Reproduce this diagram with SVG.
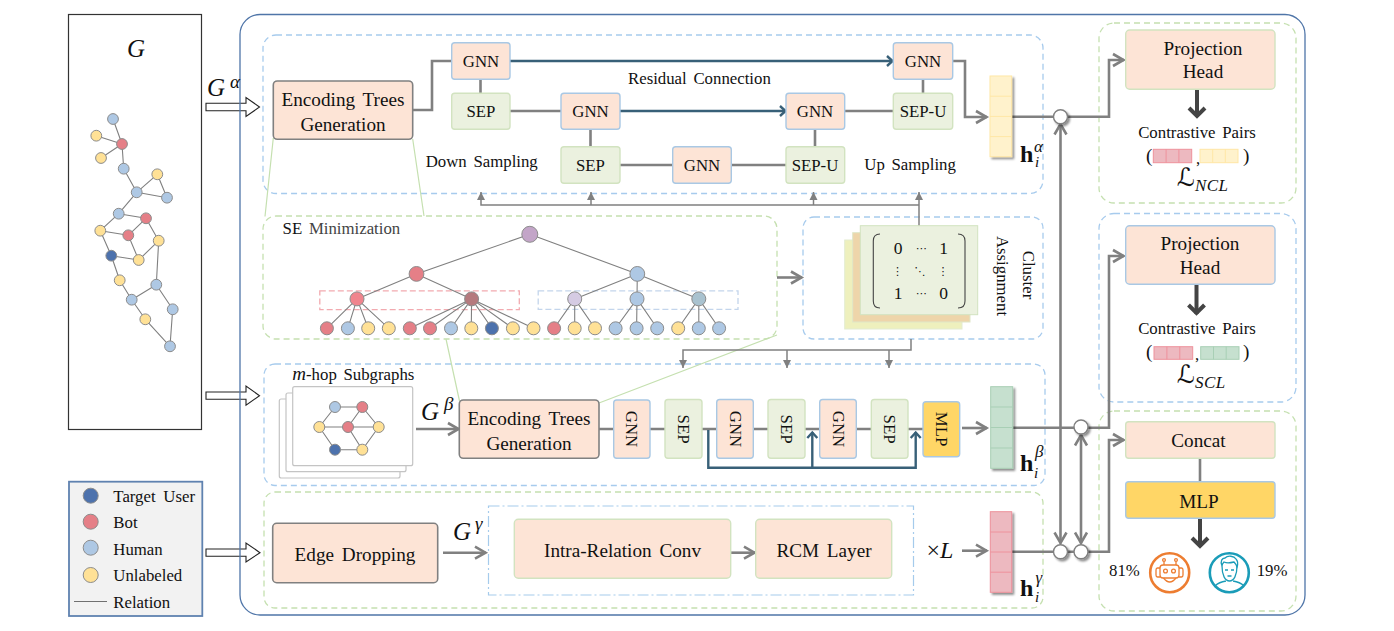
<svg xmlns="http://www.w3.org/2000/svg" width="1394" height="631" viewBox="0 0 1394 631">
<style>
text{font-family:"Liberation Serif","Times New Roman",serif;fill:#111}
.c{text-anchor:middle}
.lg{font-size:19.2px;word-spacing:3px}
.md{font-size:16.8px}
.sm{font-size:16.8px;word-spacing:2.5px}
.g{font-style:italic;font-size:25px}
.sup{font-style:italic;font-size:19px}
.hb{font-weight:bold;font-size:24px}
.si{font-style:italic;font-size:15px}
.hollow{fill:#fff;stroke:#222;stroke-width:1.1}
.pb{fill:none;stroke:#a7cbed;stroke-width:1.3;stroke-dasharray:6 4}
.pg{fill:none;stroke:#c5e0b0;stroke-width:1.3;stroke-dasharray:6 4}
.enc{fill:#fde4d6;stroke:#808080;stroke-width:1.6}
.nb{fill:#fde4d6;stroke:#a9c8e4;stroke-width:1.4}
.ng{fill:#ebf1df;stroke:#d2e3c0;stroke-width:1.4}
.nog{fill:#fde4d6;stroke:#d2e3c0;stroke-width:1.4}
.ml{fill:#ffd666;stroke:#a9c8e4;stroke-width:1.4}
.th{fill:none;stroke:#808080;stroke-width:2.6}
.rs{fill:none;stroke:#386078;stroke-width:2.4}
.tn{fill:none;stroke:#808080;stroke-width:1.5}
.dk{fill:none;stroke:#444;stroke-width:4}
.tl{fill:none;stroke:#c5e0b0;stroke-width:1.2}
.ge{stroke:#808080;stroke-width:1.1;fill:none}
.b{fill:#aec8e4;stroke:#8c8c8c;stroke-width:1}
.r{fill:#e57f87;stroke:#8c8c8c;stroke-width:1}
.y{fill:#ffe196;stroke:#8c8c8c;stroke-width:1}
.d{fill:#4d72ad;stroke:#8c8c8c;stroke-width:1}
.card{fill:#fff;stroke:#c4c4c4;stroke-width:1.2}
.vy{fill:#fff2cc;stroke:#ffe7a6;stroke-width:1}
.vg{fill:#c6e0cf;stroke:#a8cfb5;stroke-width:1}
.vp{fill:#edb9c0;stroke:#ee929c;stroke-width:1}
.j{fill:#fff;stroke:#808080;stroke-width:1.4}
.or{fill:none;stroke:#ed7d31;stroke-width:1.3}
.te{fill:none;stroke:#1a9cb8;stroke-width:1.3}
.dots{font-size:11px;font-family:"DejaVu Sans",sans-serif}
.script{font-size:25px;font-family:"DejaVu Serif","DejaVu Sans",serif}
.scsub{font-style:italic;font-size:17px;font-family:"Liberation Serif",serif;letter-spacing:.4px}
</style>
<defs>
<filter id="sh" x="-30%" y="-30%" width="170%" height="170%"><feDropShadow dx="2" dy="2" stdDeviation="1.3" flood-color="#000" flood-opacity="0.45"/></filter>
<marker id="ag" markerUnits="userSpaceOnUse" markerWidth="18" markerHeight="18" refX="14" refY="9" orient="auto-start-reverse"><path d="M3 3 L13.5 9 L3 15" fill="none" stroke="#808080" stroke-width="2.6"/></marker>
<marker id="ab" markerUnits="userSpaceOnUse" markerWidth="14" markerHeight="14" refX="11" refY="7" orient="auto"><path d="M5 2 L10.5 7 L5 12" fill="none" stroke="#386078" stroke-width="2.4"/></marker>
<marker id="at" markerUnits="userSpaceOnUse" markerWidth="10" markerHeight="10" refX="8" refY="5" orient="auto"><path d="M0 1 L8 5 L0 9Z" fill="#808080"/></marker>
<marker id="ad" markerUnits="userSpaceOnUse" markerWidth="20" markerHeight="20" refX="16" refY="10" orient="auto"><path d="M7 2 L15 10 L7 18" fill="none" stroke="#444" stroke-width="4"/></marker>
</defs>

<g id="input-arrows">
<path class="hollow" d="M206 103.3H246V97.5L259.5 107L246 116.5V110.7H206Z"/>
<path class="hollow" d="M206 392H246V386L259.5 395.7L246 405.2V399.3H206Z"/>
<path class="hollow" d="M206 549H246V543L260 552.7L246 562V556.3H206Z"/>
</g>
<rect id="frame" x="240" y="14.5" width="1065" height="600.5" rx="20" fill="none" stroke="#4f75a8" stroke-width="1.3"/>

<g id="panels">
<rect class="pb" x="263" y="35" width="780" height="158.5" rx="13"/>
<rect class="pg" x="263" y="216" width="514" height="123" rx="13"/>
<rect class="pb" x="803" y="217" width="240" height="122" rx="11"/>
<rect class="pb" x="264" y="364" width="781" height="121.5" rx="11"/>
<rect class="pg" x="264" y="492" width="779" height="116" rx="11"/>
<rect class="pg" x="1099" y="23" width="197" height="180" rx="15"/>
<rect class="pb" x="1099" y="213.5" width="197" height="188.5" rx="15"/>
<rect class="pg" x="1099" y="411" width="197" height="200" rx="15"/>
<rect x="488.5" y="506" width="425" height="89" fill="none" stroke="#a5cbec" stroke-width="1.2" stroke-dasharray="11 3 2 3"/>
<rect x="319.8" y="290.8" width="199.5" height="18.9" fill="none" stroke="#f2aab0" stroke-width="1.3" stroke-dasharray="6 3"/>
<rect x="538.2" y="290.8" width="199.8" height="18.6" fill="none" stroke="#c3d5ec" stroke-width="1.3" stroke-dasharray="6 3"/>
</g>

<g id="connectors">
<path class="tl" d="M273.3 138L265 216.5M412.7 139L424 216M446 339L459.5 401M777 335L599 403"/>
<path class="th" d="M413 110H432V61H452"/>
<path class="th" d="M480.5 79V94M510 111H562M590.5 129V147M620 165H673M731 165H786M815 147V129M844 111H894M923 94V79"/>
<path class="th" d="M953 61H965V117H987" marker-end="url(#ag)"/>
<path class="rs" d="M510 61H893" marker-end="url(#ab)"/>
<path class="rs" d="M620 111H786" marker-end="url(#ab)"/>
<path class="tn" d="M919 226V192" marker-end="url(#at)"/>
<path class="tn" d="M919 205H481V192" marker-end="url(#at)"/>
<path class="tn" d="M591 205V192" marker-end="url(#at)"/>
<path class="tn" d="M813.5 205V192" marker-end="url(#at)"/>
<path class="th" d="M777 277.5H802" marker-end="url(#ag)"/>
<path class="tn" d="M911 339V350H683V368" marker-end="url(#at)"/>
<path class="tn" d="M787 350V368" marker-end="url(#at)"/>
<path class="tn" d="M889 350V368" marker-end="url(#at)"/>
<path class="th" d="M416 429H459" marker-end="url(#ag)"/>
<path class="th" d="M599 429H923"/>
<path class="th" d="M962 428H987" marker-end="url(#ag)"/>
<path class="rs" d="M708.3 430V467.7H915.7V432" marker-end="url(#ab)"/>
<path class="rs" d="M812.3 467.7V432" marker-end="url(#ab)"/>
<path class="th" d="M443 552.7H486" marker-end="url(#ag)"/>
<path class="th" d="M731 552.7H755" marker-end="url(#ag)"/>
<path class="th" d="M962 550.7H987" marker-end="url(#ag)"/>
<path class="th" d="M1012 116.7H1109V60H1124" marker-end="url(#ag)"/>
<path class="th" d="M1012 427.7H1109V256H1124" marker-end="url(#ag)"/>
<path class="th" d="M1012 551.7H1109V440H1124" marker-end="url(#ag)"/>
<path class="th" d="M1060.5 123.5V543.5" marker-start="url(#ag)" marker-end="url(#ag)"/>
<path class="th" d="M1081 434.5V543.5" marker-start="url(#ag)" marker-end="url(#ag)"/>
<path class="dk" d="M1197 89V117" marker-end="url(#ad)"/>
<path class="dk" d="M1196.5 284V314" marker-end="url(#ad)"/>
<path d="M1200 458V482" fill="none" stroke="#808080" stroke-width="2.6"/>
<path class="dk" d="M1200 518V547" marker-end="url(#ad)"/>
</g>

<g id="graph-G">
<rect x="68.5" y="14.5" width="133" height="415" fill="#fff" stroke="#333" stroke-width="1.2"/>
<text class="g" x="127" y="57">G</text>
<path class="ge" d="M113 119L122 144M96.3 135.7L122 144M101 158L122 144M122 144L123.7 168.7M123.7 168.7L136.7 192.3M136.7 192.3L157.3 174.3M157.3 174.3L167 197.7M136.7 192.3L167 197.7M136.7 192.3L118.7 213.7M118.7 213.7L146 218.3M118.7 213.7L100.3 230.7M100.3 230.7L128.3 235.3M146 218.3L128.3 235.3M146 218.3L158.7 240.7M128.3 235.3L138.7 260M158.7 240.7L138.7 260M100.3 230.7L111.3 255.7M111.3 255.7L138.7 260M111.3 255.7L119.7 280.3M119.7 280.3L131.7 299.7M131.7 299.7L156.3 284.7M158.7 240.7L156.3 284.7M156.3 284.7L172.7 309.3M131.7 299.7L145.3 319.3M145.3 319.3L170 346.3M172.7 309.3L170 346.3"/>
<g>
<circle class="b" cx="113" cy="119" r="5.4"/><circle class="y" cx="96.3" cy="135.7" r="5.4"/><circle class="r" cx="122" cy="144" r="5.4"/><circle class="y" cx="101" cy="158" r="5.4"/><circle class="b" cx="123.7" cy="168.7" r="5.4"/><circle class="y" cx="157.3" cy="174.3" r="5.4"/><circle class="b" cx="136.7" cy="192.3" r="5.4"/><circle class="b" cx="167" cy="197.7" r="5.4"/><circle class="b" cx="118.7" cy="213.7" r="5.4"/><circle class="r" cx="146" cy="218.3" r="5.4"/><circle class="y" cx="100.3" cy="230.7" r="5.4"/><circle class="r" cx="128.3" cy="235.3" r="5.4"/><circle class="y" cx="158.7" cy="240.7" r="5.4"/><circle class="d" cx="111.3" cy="255.7" r="5.4"/><circle class="y" cx="138.7" cy="260" r="5.4"/><circle class="y" cx="119.7" cy="280.3" r="5.4"/><circle class="b" cx="156.3" cy="284.7" r="5.4"/><circle class="b" cx="131.7" cy="299.7" r="5.4"/><circle class="b" cx="172.7" cy="309.3" r="5.4"/><circle class="y" cx="145.3" cy="319.3" r="5.4"/><circle class="b" cx="170" cy="346.3" r="5.4"/>
</g>
</g>

<g id="legend">
<rect x="69" y="481.7" width="133.3" height="134.3" fill="#f2f2f2" stroke="#5f82b0" stroke-width="1.8"/>
<circle class="d" cx="90.7" cy="495.7" r="7.5"/><circle class="r" cx="90.7" cy="521.7" r="7.5"/><circle class="b" cx="90.7" cy="547.7" r="7.5"/><circle class="y" cx="90.7" cy="575" r="7.5"/>
<path d="M74 601.5H107" stroke="#707070" stroke-width="1.1"/>
<text class="sm" x="113.3" y="501.7" style="word-spacing:3.5px">Target User</text>
<text class="sm" x="113.3" y="528">Bot</text>
<text class="sm" x="113.3" y="555">Human</text>
<text class="sm" x="113.3" y="581">Unlabeled</text>
<text class="sm" x="113.3" y="607.7">Relation</text>
</g>

<g id="labels-G">
<text class="g" x="207" y="96">G</text><text class="sup" x="230" y="88">α</text>
<text class="g" x="421" y="420">G</text><text class="sup" x="444" y="410">β</text>
<text class="g" x="453" y="540">G</text><text class="sup" x="475" y="530">γ</text>
<text class="sm" x="628" y="83.5">Residual Connection</text>
<text class="sm" x="425.7" y="166.7">Down Sampling</text>
<text class="sm" x="864.3" y="170">Up Sampling</text>
</g>

<g id="enc-1"><rect class="enc" x="273.3" y="81" width="139.4" height="58.3" rx="4"/><text class="lg c" x="343" y="106">Encoding Trees</text><text class="lg c" x="343" y="131">Generation</text></g>
<g id="gnn-d1"><rect class="nb" x="451.7" y="42.7" width="58.3" height="36.6" rx="3"/><text class="md c" x="481" y="67">GNN</text></g>
<g id="sep-d1"><rect class="ng" x="451.7" y="93.3" width="58.3" height="36" rx="3"/><text class="md c" x="481" y="117">SEP</text></g>
<g id="gnn-d2"><rect class="nb" x="561" y="93.3" width="59" height="36" rx="3"/><text class="md c" x="590.5" y="117">GNN</text></g>
<g id="sep-d2"><rect class="ng" x="561" y="146.7" width="59" height="36.6" rx="3"/><text class="md c" x="590.5" y="171">SEP</text></g>
<g id="gnn-m"><rect class="nb" x="672.7" y="146.7" width="58.6" height="36.6" rx="3"/><text class="md c" x="702" y="171">GNN</text></g>
<g id="sepu-2"><rect class="ng" x="786" y="146.7" width="58.7" height="36.6" rx="3"/><text class="md c" x="815" y="171">SEP-U</text></g>
<g id="gnn-u2"><rect class="nb" x="786" y="93.3" width="58.7" height="36" rx="3"/><text class="md c" x="815" y="117">GNN</text></g>
<g id="sepu-1"><rect class="ng" x="893.3" y="93.3" width="59.4" height="36" rx="3"/><text class="md c" x="923" y="117">SEP-U</text></g>
<g id="gnn-u1"><rect class="nb" x="893.3" y="42.7" width="59.4" height="36.6" rx="3"/><text class="md c" x="923" y="67">GNN</text></g>

<g id="vec-alpha"><rect class="vy" x="990" y="76" width="21.7" height="80.7" filter="url(#sh)"/><path d="M990 96.2H1011.7M990 116.4H1011.7M990 136.6H1011.7" stroke="#ffe7a6"/>
<text class="hb" x="1020" y="161.7">h</text><text class="sup" x="1034" y="151.7" style="font-size:17px">α</text><text class="si" x="1035" y="167">i</text></g>

<g id="se-tree">
<text x="282.6" y="234.3" style="font-size:16.8px;word-spacing:2.5px">SE <tspan fill="#444">Minimization</tspan></text>
<path class="ge" d="M529.8 234.3L416.5 273.9M529.8 234.3L637.3 273.9M416.5 273.9L357 298.9M416.5 273.9L471.6 298.9M637.3 273.9L574.7 298.9M637.3 273.9L637 298.9M637.3 273.9L698.8 298.9M357 298.9L326.9 328.3M357 298.9L347.9 328.3M357 298.9L368.2 328.3M357 298.9L388.8 328.3M471.6 298.9L409.8 328.3M471.6 298.9L430 328.3M471.6 298.9L451 328.3M471.6 298.9L471.3 328.3M471.6 298.9L491.9 328.3M471.6 298.9L512.9 328.3M471.6 298.9L533.5 328.3M574.7 298.9L554.1 328.3M574.7 298.9L574.7 328.3M574.7 298.9L595 328.3M637 298.9L615.6 328.3M637 298.9L636.6 328.3M637 298.9L657.2 328.3M698.8 298.9L678.2 328.3M698.8 298.9L698.8 328.3M698.8 298.9L719.1 328.3"/>
<circle cx="529.8" cy="234.3" r="8" fill="#c3a5c8" stroke="#8c8c8c"/>
<circle class="r" cx="416.5" cy="273.9" r="7.4"/><circle class="b" cx="637.3" cy="273.9" r="7.4"/>
<circle cx="357" cy="298.9" r="7" fill="#f0848d" stroke="#8c8c8c"/><circle cx="471.6" cy="298.9" r="7" fill="#b57a7e" stroke="#8c8c8c"/><circle cx="574.7" cy="298.9" r="7" fill="#d5cbe3" stroke="#8c8c8c"/><circle class="b" cx="637" cy="298.9" r="7"/><circle cx="698.8" cy="298.9" r="7" fill="#a9c2cf" stroke="#8c8c8c"/>
<circle class="r" cx="326.9" cy="328.3" r="6.5"/><circle class="b" cx="347.9" cy="328.3" r="6.5"/><circle class="y" cx="368.2" cy="328.3" r="6.5"/><circle class="y" cx="388.8" cy="328.3" r="6.5"/><circle class="r" cx="409.8" cy="328.3" r="6.5"/><circle class="r" cx="430" cy="328.3" r="6.5"/><circle class="b" cx="451" cy="328.3" r="6.5"/><circle class="y" cx="471.3" cy="328.3" r="6.5"/><circle class="d" cx="491.9" cy="328.3" r="6.5"/><circle class="y" cx="512.9" cy="328.3" r="6.5"/><circle class="y" cx="533.5" cy="328.3" r="6.5"/><circle class="r" cx="554.1" cy="328.3" r="6.5"/><circle class="y" cx="574.7" cy="328.3" r="6.5"/><circle class="y" cx="595" cy="328.3" r="6.5"/><circle class="b" cx="615.6" cy="328.3" r="6.5"/><circle class="b" cx="636.6" cy="328.3" r="6.5"/><circle class="b" cx="657.2" cy="328.3" r="6.5"/><circle class="y" cx="678.2" cy="328.3" r="6.5"/><circle class="b" cx="698.8" cy="328.3" r="6.5"/><circle class="b" cx="719.1" cy="328.3" r="6.5"/>
</g>

<g id="cluster">
<rect x="844.7" y="240" width="117.3" height="89" fill="#eef0bd" stroke="#e3ecd0"/>
<rect x="852.7" y="232.7" width="117.3" height="89.3" fill="#eed5aa" stroke="#dfe6c8"/>
<rect x="860.3" y="225.7" width="117.4" height="89" fill="#ebf1df" stroke="#d2e3c0"/>
<path d="M880 234Q873.3 234 873.3 241V301Q873.3 308 880 308M958 234Q965 234 965 241V301Q965 308 958 308" fill="none" stroke="#444" stroke-width="1.1"/>
<text class="c" x="898" y="254" style="font-size:17.5px">0</text><text class="c dots" x="921.5" y="252">⋯</text><text class="c" x="943.5" y="254" style="font-size:17.5px">1</text>
<text class="c dots" x="897.5" y="275">⋮</text><text class="c dots" x="920" y="275">⋱</text><text class="c dots" x="943" y="275">⋮</text>
<text class="c" x="898" y="299" style="font-size:17.5px">1</text><text class="c dots" x="921.5" y="297">⋯</text><text class="c" x="943.5" y="299" style="font-size:17.5px">0</text>
<text class="sm c" transform="translate(1023,275) rotate(90)">Cluster</text>
<text class="sm c" transform="translate(997,276) rotate(90)">Assignment</text>
</g>

<g id="subgraphs">
<rect class="card" x="279.3" y="399" width="120.7" height="79" rx="2"/>
<rect class="card" x="286" y="393" width="120" height="78.7" rx="2"/>
<rect class="card" x="292.7" y="386.7" width="120" height="79" rx="2"/>
<text x="292.3" y="380" class="sm"><tspan font-style="italic" style="font-size:19px">m</tspan>-hop Subgraphs</text>
<path class="ge" d="M335 407H362.3M335 407L319.3 427M319.3 427H378.7M362.3 407L348 427M362.3 407L378.7 427M378.7 427L362.3 449.7M319.3 427L335 449.7M335 449.7H362.3M348 427L362.3 449.7"/>
<circle class="b" cx="335" cy="407" r="5.5"/><circle class="r" cx="362.3" cy="407" r="5.5"/><circle class="y" cx="319.3" cy="427" r="5.5"/><circle class="r" cx="348" cy="427" r="5.5"/><circle class="y" cx="378.7" cy="427" r="5.5"/><circle class="d" cx="335" cy="449.7" r="5.5"/><circle class="y" cx="362.3" cy="449.7" r="5.5"/>
</g>

<g id="enc-2"><rect class="enc" x="459.3" y="400" width="139.7" height="58.3" rx="4"/><text class="lg c" x="529" y="425">Encoding Trees</text><text class="lg c" x="529" y="450">Generation</text></g>
<g id="b-gnn1"><rect class="nb" x="613.7" y="400" width="36.3" height="58.3" rx="3"/><text class="md c" transform="translate(626,429) rotate(90)">GNN</text></g>
<g id="b-sep1"><rect class="ng" x="665" y="399.5" width="37" height="58.8" rx="3"/><text class="md c" transform="translate(678,429) rotate(90)">SEP</text></g>
<g id="b-gnn2"><rect class="nb" x="716.7" y="399.5" width="36.6" height="58.8" rx="3"/><text class="md c" transform="translate(729.5,429) rotate(90)">GNN</text></g>
<g id="b-sep2"><rect class="ng" x="768" y="399.5" width="37" height="58.8" rx="3"/><text class="md c" transform="translate(781,429) rotate(90)">SEP</text></g>
<g id="b-gnn3"><rect class="nb" x="819.7" y="399.5" width="36.6" height="58.8" rx="3"/><text class="md c" transform="translate(832.5,429) rotate(90)">GNN</text></g>
<g id="b-sep3"><rect class="ng" x="871.3" y="399.5" width="36.7" height="58.8" rx="3"/><text class="md c" transform="translate(884,429) rotate(90)">SEP</text></g>
<g id="b-mlp"><rect class="ml" x="923" y="401.7" width="36.7" height="55" rx="3"/><text class="md c" transform="translate(935.5,429) rotate(90)">MLP</text></g>
<g id="vec-beta"><rect class="vg" x="990.7" y="386.7" width="22" height="81.6" filter="url(#sh)"/><path d="M990.7 407H1012.7M990.7 427.5H1012.7M990.7 448H1012.7" stroke="#a8cfb5"/>
<text class="hb" x="1020" y="470.7">h</text><text class="sup" x="1035" y="456.7" style="font-size:17px">β</text><text class="si" x="1034" y="478">i</text></g>

<g id="edge-drop"><rect class="enc" x="272.7" y="523.3" width="165" height="59.4" rx="4"/><text class="lg c" x="355" y="560.7">Edge Dropping</text></g>
<g id="intra"><rect class="nog" x="514.3" y="519.3" width="216.4" height="59" rx="4"/><text class="lg c" x="622.5" y="557">Intra-Relation Conv</text></g>
<g id="rcm"><rect class="nog" x="755.7" y="519.3" width="136" height="59" rx="4"/><text class="lg c" x="824" y="556.7">RCM Layer</text></g>
<text x="926.5" y="558" style="font-size:24px">×<tspan font-style="italic">L</tspan></text>
<g id="vec-gamma"><rect class="vp" x="990.3" y="511.7" width="21.4" height="80.6" filter="url(#sh)"/><path d="M990.3 532H1011.7M990.3 552H1011.7M990.3 572.2H1011.7" stroke="#ee929c"/>
<text class="hb" x="1020" y="596">h</text><text class="sup" x="1035.5" y="583" style="font-size:17px">γ</text><text class="si" x="1035" y="601.7">i</text></g>

<g id="junctions" filter="url(#sh)">
<circle class="j" cx="1060.5" cy="116.7" r="7"/><circle class="j" cx="1081" cy="427" r="7"/><circle class="j" cx="1060.5" cy="551.7" r="7"/><circle class="j" cx="1081" cy="551.7" r="7"/>
</g>

<g id="proj-1"><rect class="nog" x="1125.7" y="30" width="149.3" height="59.3" rx="4"/><text class="lg c" x="1203" y="55">Projection</text><text class="lg c" x="1203" y="78">Head</text></g>
<g id="pairs-1">
<text class="sm c" x="1197" y="138" style="font-size:16.8px">Contrastive Pairs</text>
<text class="lg" x="1146" y="162">(</text><text class="md" x="1196" y="164">,</text><text class="lg" x="1243" y="162">)</text>
<rect class="vp" x="1153.3" y="149.3" width="38.4" height="13.4"/><path d="M1166.1 149.3V162.7M1178.9 149.3V162.7" stroke="#ee929c"/>
<rect class="vy" x="1200" y="149.3" width="38" height="13.4"/><path d="M1212.7 149.3V162.7M1225.3 149.3V162.7" stroke="#ffe7a6"/>
<text x="1177" y="186" class="script">ℒ<tspan class="scsub" dy="5">NCL</tspan></text>
</g>
<g id="proj-2"><rect class="nb" x="1125.7" y="225.7" width="149.3" height="58.6" rx="4"/><text class="lg c" x="1200" y="250">Projection</text><text class="lg c" x="1200" y="274">Head</text></g>
<g id="pairs-2">
<text class="sm c" x="1197" y="334" style="font-size:16.8px">Contrastive Pairs</text>
<text class="lg" x="1146" y="358">(</text><text class="md" x="1195" y="360">,</text><text class="lg" x="1243" y="358">)</text>
<rect class="vp" x="1154" y="346.7" width="38.7" height="12.6"/><path d="M1166.9 346.7V359.3M1179.8 346.7V359.3" stroke="#ee929c"/>
<rect class="vg" x="1200.7" y="346.7" width="38.3" height="12.6"/><path d="M1213.5 346.7V359.3M1226.2 346.7V359.3" stroke="#a8cfb5"/>
<text x="1177" y="383" class="script">ℒ<tspan class="scsub" dy="5">SCL</tspan></text>
</g>
<g id="concat"><rect class="nog" x="1125.7" y="421.7" width="149.3" height="36.6" rx="3"/><text class="lg c" x="1198.5" y="446.7">Concat</text></g>
<g id="mlp"><rect class="ml" x="1125.7" y="481.7" width="149.3" height="36.6" rx="3"/><text class="lg c" x="1199" y="508">MLP</text></g>

<g id="bot">
<circle cx="1169.7" cy="572.7" r="19.5" fill="#fff" stroke="#ed7d31" stroke-width="2.6"/>
<rect class="or" x="1160" y="565" width="19" height="13" rx="3"/>
<path class="or" d="M1160 568H1157.5Q1156 568 1156 570V575Q1156 577 1157.5 577H1160M1179 568H1181.5Q1183 568 1183 570V575Q1183 577 1181.5 577H1179M1164 565V561.5M1176 565V561.5M1163.5 578Q1169.7 586 1176 578"/>
<circle class="or" cx="1164" cy="560" r="1.4"/><circle class="or" cx="1176" cy="560" r="1.4"/><circle class="or" cx="1165.5" cy="571" r="1.9"/><circle class="or" cx="1173.5" cy="571" r="1.9"/>
</g>
<g id="human">
<circle cx="1229.3" cy="572.7" r="19.5" fill="#fff" stroke="#1a9cb8" stroke-width="2.6"/>
<path class="te" d="M1222 566C1220 561 1222 558 1225 558C1228 555 1234 556 1236 559C1238 561 1238 564 1237 567C1236 564 1235 563 1234 562C1230 563 1226 563 1224 562C1223 563 1222 564 1222 566Z"/>
<path class="te" d="M1222 566C1222 575 1225 581 1229.5 581S1237 575 1237 566M1225 570H1228M1231 570H1234M1227.5 576H1231.5M1215 586Q1219 582 1226 581M1233 581Q1240 582 1244 586"/>
</g>
<text class="sm" x="1109" y="576">81%</text>
<text class="sm" x="1256.7" y="576">19%</text>
</svg>
